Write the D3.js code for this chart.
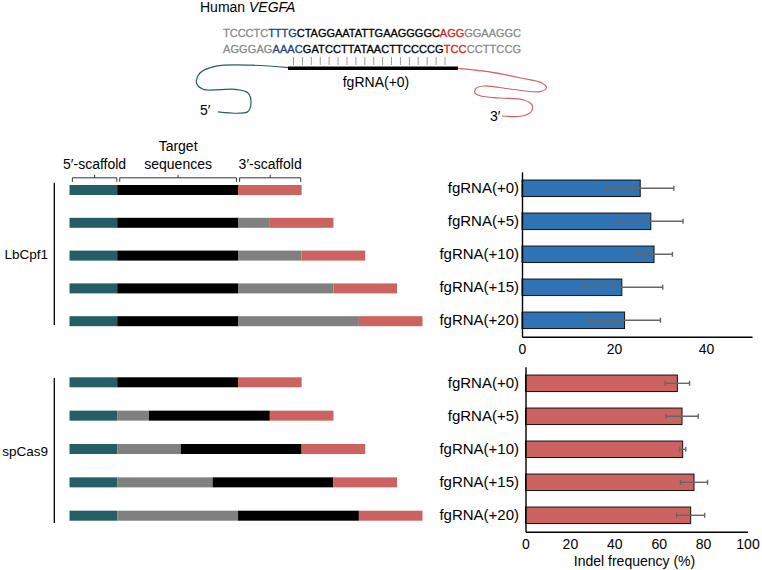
<!DOCTYPE html>
<html>
<head>
<meta charset="utf-8">
<script src="https://cdn.jsdelivr.net/npm/d3@7"></script>
<style>
  body { margin: 0; background: #fff; }
  svg { font-family: 'Liberation Sans', Arial, sans-serif; }
</style>
</head>
<body>
<div id="chart"></div>
<script>
// Data
const rowLabels = ['fgRNA(+0)', 'fgRNA(+5)', 'fgRNA(+10)', 'fgRNA(+15)', 'fgRNA(+20)']
// drawn length of the extra spacer in each schematic (nt units)
const extensionNt = [0, 5, 10, 15, 19]
const lbMean = [25.7, 28.0, 28.7, 21.7, 22.3]
const lbErr = [7.3, 7.0, 4.0, 8.9, 7.8]
const spMean = [68.4, 70.5, 70.8, 75.9, 74.4]
const spErr = [5.5, 7.3, 1.4, 6.1, 6.3]
const lbTicks = [0, 20, 40]
const spTicks = [0, 20, 40, 60, 80, 100]
const scaffold5Nt = 7.5
const targetNt = 19
const scaffold3Nt = 10

// sequence pieces [text, colour key]
const seqTop = [['TCCCTC', 'g'], ['TTTG', 'n'], ['CTAGGAATATTGAAGGGGC', 'k'], ['AGG', 'r'], ['GGAAGGC', 'g']]
const seqBottom = [['AGGGAG', 'g'], ['AAAC', 'n'], ['GATCCTTATAACTTCCCCG', 'k'], ['TCC', 'r'], ['CCTTCCG', 'g']]

// Colours
const teal = '#245e66'
const red = '#cd6361'
const grey = '#808080'
const blue = '#2e74b5'
const seqColor = { g: '#8a8a8a', n: '#1d3f7e', k: '#000', r: '#d3221c' }

const W = 762
const H = 570

const svg = d3.select('#chart').append('svg')
  .attr('width', W)
  .attr('height', H)

// ---- Top: target site ----
const title = svg.append('text')
  .attr('x', 200)
  .attr('y', 12)
  .attr('font-size', 14)
title.append('tspan').text('Human ')
title.append('tspan').attr('font-style', 'italic').text('VEGFA')

function seqLine(parts, y) {
  const t = svg.append('text')
    .attr('x', 223)
    .attr('y', y)
    .attr('font-size', 11)
    .attr('textLength', 298)
    .attr('lengthAdjust', 'spacing')
  parts.forEach(p => {
    t.append('tspan')
      .attr('fill', seqColor[p[1]])
      .attr('stroke', seqColor[p[1]])
      .attr('stroke-width', 0.3)
      .text(p[0])
  })
}
seqLine(seqTop, 37)
seqLine(seqBottom, 53)

// base-pairing ticks
const pairX = d3.scaleLinear().domain([0, 17]).range([293.5, 445])
svg.append('g').selectAll('line')
  .data(d3.range(18))
  .enter().append('line')
  .attr('x1', d => pairX(d)).attr('x2', d => pairX(d))
  .attr('y1', 57).attr('y2', 65)
  .attr('stroke', '#999').attr('stroke-width', 1)

const curve = d3.line().curve(d3.curveCatmullRom.alpha(0.5))
const tealPts = [[289, 67.6], [252, 65.2], [216, 66.2], [200, 73], [196.5, 83], [203, 89.2], [235, 89.4], [248, 93], [251, 103], [248, 111.5], [240, 113.2], [218, 111.8]]
const redPts = [[457, 68.3], [488, 71.6], [521, 78], [542, 83], [546.5, 88], [540, 91.6], [510, 89], [484, 86], [476, 88.5], [475, 93], [481, 96], [500, 98], [524, 100], [532, 105], [531, 112], [522, 116], [502, 116]]
svg.append('path').attr('d', curve(tealPts)).attr('fill', 'none').attr('stroke', teal).attr('stroke-width', 1.2)
svg.append('path').attr('d', curve(redPts)).attr('fill', 'none').attr('stroke', red).attr('stroke-width', 1.2)
svg.append('line').attr('x1', 288).attr('x2', 458).attr('y1', 68.3).attr('y2', 68.3)
  .attr('stroke', '#000').attr('stroke-width', 3.5)

svg.append('text').attr('x', 376).attr('y', 87).attr('text-anchor', 'middle').attr('font-size', 14).text('fgRNA(+0)')
svg.append('text').attr('x', 200).attr('y', 115).attr('font-size', 14).text('5′')
svg.append('text').attr('x', 490).attr('y', 121).attr('font-size', 14).text('3′')

// ---- Left: schematics ----
const ntX = d3.scaleLinear().domain([0, 1]).range([69.5, 75.86])
const barH = 10

function segments(ext, cas9) {
  const segs = []
  let pos = 0
  const push = (len, color) => { if (len > 0) { segs.push({ x0: pos, x1: pos + len, color }); pos += len } }
  push(scaffold5Nt, teal)
  if (cas9) { push(ext, grey); push(targetNt, '#000') } else { push(targetNt, '#000'); push(ext, grey) }
  push(scaffold3Nt, red)
  return segs
}

function schematic(rowRange, cas9, label, lineY) {
  const y = d3.scalePoint().domain(rowLabels).range(rowRange)
  const g = svg.append('g')
  rowLabels.forEach((r, i) => {
    g.selectAll(null)
      .data(segments(extensionNt[i], cas9))
      .enter().append('rect')
      .attr('x', d => ntX(d.x0))
      .attr('width', d => ntX(d.x1) - ntX(d.x0))
      .attr('y', y(r) - barH / 2)
      .attr('height', barH)
      .attr('fill', d => d.color)
  })
  g.append('line').attr('x1', 54.3).attr('x2', 54.3).attr('y1', lineY[0]).attr('y2', lineY[1])
    .attr('stroke', '#000').attr('stroke-width', 1.3)
  g.append('text').attr('x', 48).attr('y', (lineY[0] + lineY[1]) / 2 + 5)
    .attr('text-anchor', 'end').attr('font-size', 13.5).text(label)
  return y
}

schematic([190, 321.2], false, 'LbCpf1', [182.7, 325])
schematic([382.3, 515.7], true, 'spCas9', [378, 523])

// brackets above first LbCpf1 row
const brackets = [
  { a: 0.45, b: scaffold5Nt - 0.05, lab: ['5′-scaffold'] },
  { a: scaffold5Nt + 0.4, b: scaffold5Nt + targetNt - 0.25, lab: ['Target', 'sequences'] },
  { a: scaffold5Nt + targetNt + 0.25, b: scaffold5Nt + targetNt + scaffold3Nt - 0.15, lab: ['3′-scaffold'] }
]
const bTop = 177.8
const bBot = 181.8
const bg = svg.append('g')
brackets.forEach(b => {
  const x0 = ntX(b.a)
  const x1 = ntX(b.b)
  const xm = (x0 + x1) / 2
  bg.append('path')
    .attr('d', `M${x0},${bBot}V${bTop}H${x1}V${bBot}M${xm},${bTop}V${bTop - 3}`)
    .attr('fill', 'none').attr('stroke', '#333').attr('stroke-width', 1)
  b.lab.forEach((t, k) => {
    bg.append('text').attr('x', xm).attr('y', 168.5 - (b.lab.length - 1 - k) * 18)
      .attr('text-anchor', 'middle').attr('font-size', 14).text(t)
  })
})

// ---- Right: bar charts ----
function barChart(opts) {
  const x = d3.scaleLinear().domain(opts.domain).range(opts.xRange)
  const y = d3.scaleBand().domain(rowLabels).range(opts.yRange).paddingInner(0.5).paddingOuter(0.25)
  const g = svg.append('g')

  g.selectAll('rect.bar')
    .data(opts.mean)
    .enter().append('rect')
    .attr('class', 'bar')
    .attr('x', x(0))
    .attr('y', (d, i) => y(rowLabels[i]))
    .attr('width', d => x(d) - x(0))
    .attr('height', y.bandwidth())
    .attr('fill', opts.color)
    .attr('stroke', '#111')
    .attr('stroke-width', 1)

  const eb = g.selectAll('g.err')
    .data(opts.mean)
    .enter().append('g')
    .attr('class', 'err')
    .attr('stroke', '#666')
    .attr('stroke-width', 1.4)
  const cy = i => y(rowLabels[i]) + y.bandwidth() / 2
  eb.append('line')
    .attr('x1', (d, i) => x(d - opts.err[i])).attr('x2', (d, i) => x(d + opts.err[i]))
    .attr('y1', (d, i) => cy(i)).attr('y2', (d, i) => cy(i))
  eb.append('line')
    .attr('x1', (d, i) => x(d - opts.err[i])).attr('x2', (d, i) => x(d - opts.err[i]))
    .attr('y1', (d, i) => cy(i) - 2.5).attr('y2', (d, i) => cy(i) + 2.5)
  eb.append('line')
    .attr('x1', (d, i) => x(d + opts.err[i])).attr('x2', (d, i) => x(d + opts.err[i]))
    .attr('y1', (d, i) => cy(i) - 2.5).attr('y2', (d, i) => cy(i) + 2.5)

  const xAxis = g.append('g')
    .attr('transform', `translate(0,${opts.yRange[1]})`)
    .call(d3.axisBottom(x).tickValues(opts.ticks).tickSize(0).tickSizeOuter(0).tickPadding(7))
  xAxis.select('.domain').attr('stroke', '#000').attr('stroke-width', 1.4)
  xAxis.selectAll('text').attr('font-size', 14).attr('font-family', 'Liberation Sans, Arial, sans-serif').attr('fill', '#000')

  const yAxis = g.append('g')
    .attr('transform', `translate(${x(0)},0)`)
    .call(d3.axisLeft(y).tickSize(0).tickSizeOuter(0).tickPadding(opts.labelPad))
  yAxis.select('.domain').attr('stroke', '#000').attr('stroke-width', 1.4)
  yAxis.selectAll('text').attr('font-size', 15).attr('font-family', 'Liberation Sans, Arial, sans-serif').attr('fill', '#000')
  return x
}

barChart({ domain: [0, 50], xRange: [522, 752], yRange: [171.8, 336.8], mean: lbMean, err: lbErr, color: blue, ticks: lbTicks, labelPad: 3 })
const xSp = barChart({ domain: [0, 100], xRange: [525.5, 747.5], yRange: [366.8, 531.8], mean: spMean, err: spErr, color: red, ticks: spTicks, labelPad: 6.5 })

svg.append('text')
  .attr('x', xSp(50) - 2)
  .attr('y', 566)
  .attr('text-anchor', 'middle')
  .attr('font-size', 14)
  .text('Indel frequency (%)')
</script>
</body>
</html>
